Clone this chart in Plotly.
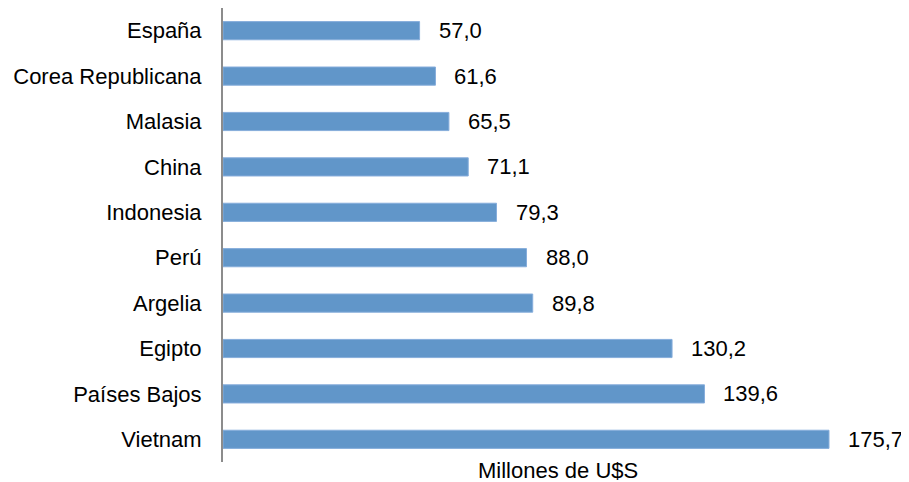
import plotly.graph_objects as go

paises = ["España", "Corea Republicana", "Malasia", "China", "Indonesia",
          "Perú", "Argelia", "Egipto", "Países Bajos", "Vietnam"]
valores = [57.0, 61.6, 65.5, 71.1, 79.3, 88.0, 89.8, 130.2, 139.6, 175.7]
titulo_x = "Millones de U$S"

FONT = "Liberation Sans, Arial, sans-serif"
FS = 22

fig = go.Figure()
fig.add_trace(go.Bar(
    x=valores, y=paises, orientation="h",
    marker=dict(color="#6196c9", line=dict(color="#86addb", width=1)),
    hoverinfo="skip",
))

for v, p in zip(valores, paises):
    fig.add_annotation(
        x=v, y=p, xref="x", yref="y",
        text=f"{v:.1f}".replace(".", ","),
        showarrow=False, xanchor="left", xshift=17,
        font=dict(family=FONT, size=FS, color="#000000"),
    )

fig.add_annotation(
    x=0.51, y=0, xref="paper", yref="paper",
    text=titulo_x, showarrow=False, xanchor="center", yanchor="top",
    yshift=6, font=dict(family=FONT, size=FS, color="#000000"),
)

fig.update_layout(
    width=901, height=474,
    margin=dict(l=215, r=30, t=0, b=20),
    paper_bgcolor="white", plot_bgcolor="white",
    bargap=0.6,
    showlegend=False,
    font=dict(family=FONT, size=FS, color="#000000"),
    xaxis=dict(
        range=[0, 190.2], showgrid=False, zeroline=False,
        showticklabels=False, ticks="", showline=False,
        automargin=False,
    ),
    yaxis=dict(
        autorange="reversed", showgrid=False, zeroline=False,
        showline=True, linecolor="#8c8c8c", linewidth=2,
        ticks="", ticklabelstandoff=15, automargin=False,
        tickfont=dict(family=FONT, size=FS, color="#000000"),
    ),
)

fig.write_html("out.html")
